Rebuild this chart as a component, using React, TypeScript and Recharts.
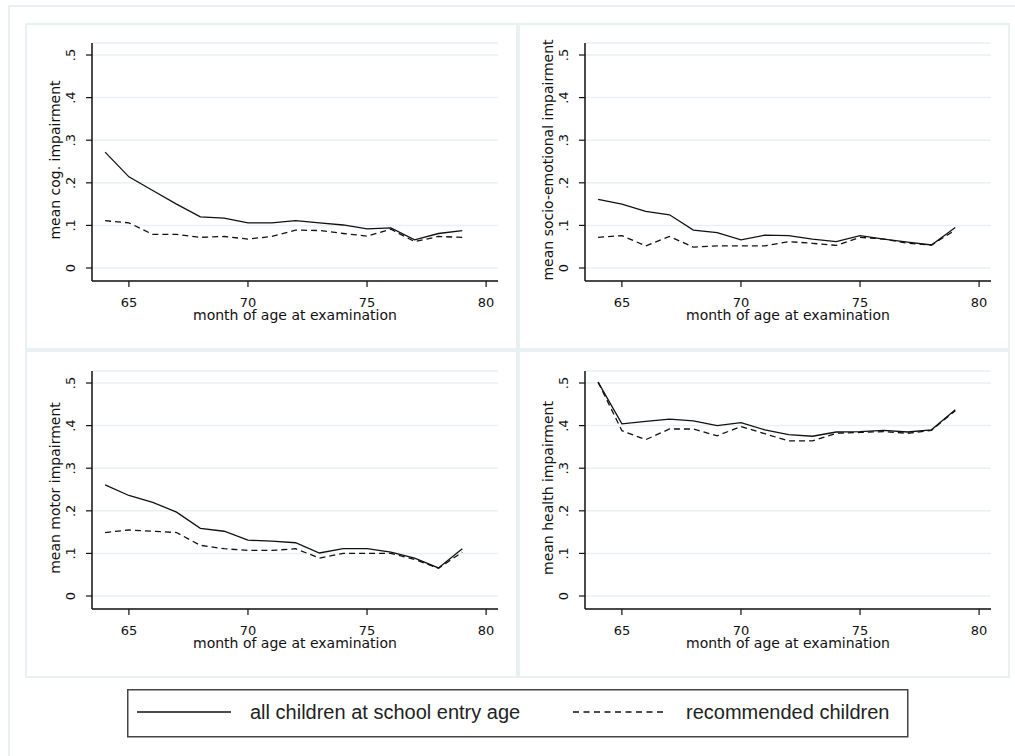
import React from "react";
import { LineChart, Line, XAxis, YAxis, CartesianGrid } from "recharts";

// ── Data ──────────────────────────────────────────────────────────────────────

const months = [64, 65, 66, 67, 68, 69, 70, 71, 72, 73, 74, 75, 76, 77, 78, 79];

const cogAll = [0.272, 0.214, 0.182, 0.150, 0.120, 0.117, 0.106, 0.106, 0.111, 0.106, 0.101, 0.092, 0.094, 0.066, 0.081, 0.088];
const cogRec = [0.111, 0.106, 0.079, 0.079, 0.072, 0.074, 0.068, 0.074, 0.089, 0.088, 0.081, 0.075, 0.091, 0.062, 0.074, 0.072];

const socAll = [0.161, 0.150, 0.133, 0.125, 0.089, 0.083, 0.066, 0.077, 0.076, 0.068, 0.062, 0.076, 0.068, 0.061, 0.054, 0.095];
const socRec = [0.072, 0.076, 0.052, 0.074, 0.049, 0.052, 0.052, 0.052, 0.062, 0.058, 0.053, 0.072, 0.068, 0.058, 0.054, 0.089];

const motAll = [0.261, 0.236, 0.220, 0.197, 0.159, 0.152, 0.131, 0.129, 0.125, 0.101, 0.111, 0.111, 0.103, 0.089, 0.066, 0.111];
const motRec = [0.149, 0.155, 0.152, 0.149, 0.119, 0.111, 0.107, 0.107, 0.111, 0.089, 0.100, 0.100, 0.100, 0.086, 0.065, 0.103];

const hltAll = [0.502, 0.404, 0.410, 0.415, 0.411, 0.400, 0.407, 0.390, 0.379, 0.375, 0.385, 0.386, 0.389, 0.385, 0.390, 0.437];
const hltRec = [0.502, 0.388, 0.367, 0.392, 0.392, 0.376, 0.398, 0.381, 0.364, 0.364, 0.382, 0.384, 0.386, 0.382, 0.389, 0.435];

const xTicks = [65, 70, 75, 80];
const yTicks = [0, 0.1, 0.2, 0.3, 0.4, 0.5];
const yTickLabels = ["0", ".1", ".2", ".3", ".4", ".5"];

const xTitle = "month of age at examination";
const legendAll = "all children at school entry age";
const legendRec = "recommended children";

// ── Layout ────────────────────────────────────────────────────────────────────

const CHART_W = 492;
const CHART_H = 326;
const PLOT_L = 67;
const PLOT_T = 20;
const PLOT_W = 406;
const PLOT_H = 238;

const FONT = "'DejaVu Sans', sans-serif";
const GRID = "#e8f0f2";
const INK = "#111";

function YTick({ y, payload }: any) {
  const i = yTicks.indexOf(payload.value);
  return (
    <text
      transform={`translate(${PLOT_L - 17},${y}) rotate(-90)`}
      textAnchor="middle"
      fontFamily={FONT}
      fontSize={13}
      fill={INK}
    >
      {yTickLabels[i]}
    </text>
  );
}

function XTick({ x, payload }: any) {
  return (
    <text x={x} y={PLOT_T + PLOT_H + 26} textAnchor="middle" fontFamily={FONT} fontSize={13} fill={INK}>
      {payload.value}
    </text>
  );
}

interface PanelProps {
  title: string;
  all: number[];
  rec: number[];
  left: number;
  top: number;
}

function Panel({ title, all, rec, left, top }: PanelProps) {
  const rows = months.map((m, i) => ({ m, all: all[i], rec: rec[i] }));
  return (
    <div style={{ position: "absolute", left, top, width: CHART_W, height: CHART_H }}>
      <LineChart
        width={CHART_W}
        height={CHART_H}
        data={rows}
        margin={{ top: PLOT_T, right: CHART_W - PLOT_L - PLOT_W, left: 0, bottom: 0 }}
      >
        <CartesianGrid vertical={false} stroke={GRID} strokeWidth={1.5} />
        <XAxis
          dataKey="m"
          type="number"
          domain={[63.45, 80.5]}
          allowDataOverflow
          ticks={xTicks}
          height={CHART_H - PLOT_T - PLOT_H}
          tick={<XTick />}
          tickSize={6}
          axisLine={{ stroke: INK, strokeWidth: 1.5 }}
          tickLine={{ stroke: INK, strokeWidth: 1.2 }}
          label={{
            content: () => (
              <text
                x={PLOT_L + PLOT_W / 2}
                y={PLOT_T + PLOT_H + 39}
                textAnchor="middle"
                fontFamily={FONT}
                fontSize={14}
                fill={INK}
              >
                {xTitle}
              </text>
            ),
          }}
        />
        <YAxis
          type="number"
          domain={[-0.0305, 0.5282]}
          allowDataOverflow
          ticks={yTicks}
          width={PLOT_L}
          tick={<YTick />}
          tickSize={6}
          axisLine={{ stroke: INK, strokeWidth: 1.5 }}
          tickLine={{ stroke: INK, strokeWidth: 1.2 }}
          label={{
            content: () => (
              <text
                transform={`translate(${PLOT_L - 32},${PLOT_T + PLOT_H / 2 - 2}) rotate(-90)`}
                textAnchor="middle"
                fontFamily={FONT}
                fontSize={14}
                fill={INK}
              >
                {title}
              </text>
            ),
          }}
        />
        <Line dataKey="rec" type="linear" stroke={INK} strokeWidth={1.3} strokeDasharray="6 4" dot={false} isAnimationActive={false} />
        <Line dataKey="all" type="linear" stroke={INK} strokeWidth={1.3} dot={false} isAnimationActive={false} />
      </LineChart>
    </div>
  );
}

const frame = (left: number, top: number, width: number, height: number): React.CSSProperties => ({
  position: "absolute",
  left,
  top,
  width,
  height,
  boxSizing: "border-box",
  border: `2px solid ${GRID}`,
  background: "#fff",
});

export default function App() {
  return (
    <div style={{ position: "absolute", left: 0, top: 0, width: 1015, height: 756, background: "#fff", overflow: "hidden" }}>
      <div style={{ ...frame(8, 5, 1007, 751), borderRight: "none", borderBottom: "none" }} />

      <div style={frame(25, 23, 493, 327)} />
      <div style={frame(518, 23, 492, 327)} />
      <div style={frame(25, 350, 493, 328)} />
      <div style={frame(518, 350, 492, 328)} />

      <Panel title="mean cog. impairment" all={cogAll} rec={cogRec} left={25} top={23} />
      <Panel title="mean socio-emotional impairment" all={socAll} rec={socRec} left={518} top={23} />
      <Panel title="mean motor impairment" all={motAll} rec={motRec} left={25} top={351} />
      <Panel title="mean health impairment" all={hltAll} rec={hltRec} left={518} top={351} />

      {/* legend */}
      <svg style={{ position: "absolute", left: 127, top: 689 }} width={782} height={49}>
        <rect x={0.75} y={0.75} width={780} height={47} fill="#fff" stroke="#444" strokeWidth={1.5} />
        <line x1={10} x2={104} y1={23} y2={23} stroke={INK} strokeWidth={1.5} />
        <text x={123} y={30} fontFamily="'Liberation Sans', Arial, sans-serif" fontSize={20} fill="#222">
          {legendAll}
        </text>
        <line x1={446} x2={540} y1={23} y2={23} stroke={INK} strokeWidth={1.5} strokeDasharray="6 4.5" />
        <text x={559} y={30} fontFamily="'Liberation Sans', Arial, sans-serif" fontSize={20} fill="#222">
          {legendRec}
        </text>
      </svg>
    </div>
  );
}
